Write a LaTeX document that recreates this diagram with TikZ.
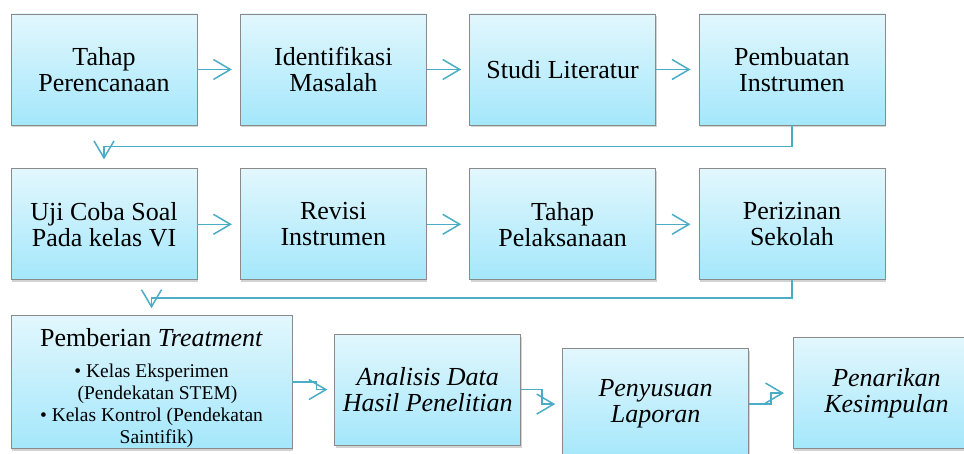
\documentclass[tikz,border=0pt]{standalone}
\usepackage{fontspec}
\setmainfont{Liberation Serif}
\usepackage{xcolor}
\usepackage{tikz}
\usetikzlibrary{arrows.meta,positioning,shadows}

\definecolor{boxtop}{HTML}{E2F7FD}
\definecolor{boxbottom}{HTML}{A4E7FB}
\definecolor{boxline}{HTML}{8A8A8A}
\definecolor{flowline}{HTML}{4BACC6}

\begin{document}
\begin{tikzpicture}[
    x=1pt, y=-1pt,
    node distance=43pt and 42.5pt,
    stepbox/.style={
        draw=boxline,
        line width=0.8pt,
        top color=boxtop,
        bottom color=boxbottom,
        align=center,
        inner sep=0pt,
        minimum width=186pt,
        minimum height=111pt,
        font=\fontsize{26}{26}\selectfont,
        drop shadow={shadow xshift=1pt, shadow yshift=-2.5pt, opacity=0.35}
    },
    italicbox/.style={stepbox, font=\fontsize{26}{26}\selectfont\itshape},
    arrow/.style={-{Straight Barb[length=17pt,width=20pt,line width=1.5pt]}, draw=flowline, line width=1.5pt}
]
\useasboundingbox (0,0) rectangle (964,454);

% first row
\node[stepbox] (tahap) at (104,69.5) {Tahap\\Perencanaan};
\node[stepbox, right=of tahap] (identifikasi) {Identifikasi\\Masalah};
\node[stepbox, right=of identifikasi] (studi) {Studi Literatur};
\node[stepbox, right=of studi] (instrumen) {Pembuatan\\Instrumen};

% second row
\node[stepbox, below=of tahap] (ujicoba) {Uji Coba Soal\\Pada kelas VI};
\node[stepbox, right=of ujicoba] (revisi) {Revisi\\Instrumen};
\node[stepbox, right=of revisi] (pelaksanaan) {Tahap\\Pelaksanaan};
\node[stepbox, right=of pelaksanaan] (perizinan) {Perizinan\\Sekolah};

% third row
\node[stepbox, minimum width=281pt, minimum height=133pt,
      font=\fontsize{19.5}{22}\selectfont,
      below=35pt of ujicoba.south west, anchor=north west] (treatment)
    {\rule{0pt}{30pt}\fontsize{26}{26}\selectfont Pemberian \textit{Treatment}\\[9pt]
     \textbullet{} Kelas Eksperimen\\
     \hspace*{12pt}(Pendekatan STEM)\\
     \textbullet{} Kelas Kontrol (Pendekatan\\
     \hspace*{10pt}Saintifik)};
\node[italicbox, right=42pt of treatment, yshift=-7.5pt] (analisis) {Analisis Data\\Hasil Penelitian};
\node[italicbox, right=41pt of analisis, yshift=-14.5pt] (penyusunan) {Penyusuan\\Laporan};
\node[italicbox, right=44pt of penyusunan, yshift=11pt] (penarikan) {Penarikan\\Kesimpulan};

\draw[arrow, shorten >=8pt] (tahap) -- (identifikasi);
\draw[arrow, shorten >=8pt] (identifikasi) -- (studi);
\draw[arrow, shorten >=8pt] (studi) -- (instrumen);
\draw[arrow, shorten >=9pt] (instrumen.south) -- ++(0,21) -| (ujicoba.north);

\draw[arrow, shorten >=8pt] (ujicoba) -- (revisi);
\draw[arrow, shorten >=8pt] (revisi) -- (pelaksanaan);
\draw[arrow, shorten >=8pt] (pelaksanaan) -- (perizinan);
\draw[arrow, shorten >=7pt] (perizinan.south) -- ++(0,18) -| (treatment.north);

\draw[arrow, shorten >=7pt] (treatment.east) -- ++(24,0) |- (analisis.west);
\draw[arrow, shorten >=7pt] (analisis.east) -- ++(21,0) |- (penyusunan.west);
\draw[arrow, shorten >=9pt] (penyusunan.east) -- ++(22,0) |- (penarikan.west);
\end{tikzpicture}
\end{document}
